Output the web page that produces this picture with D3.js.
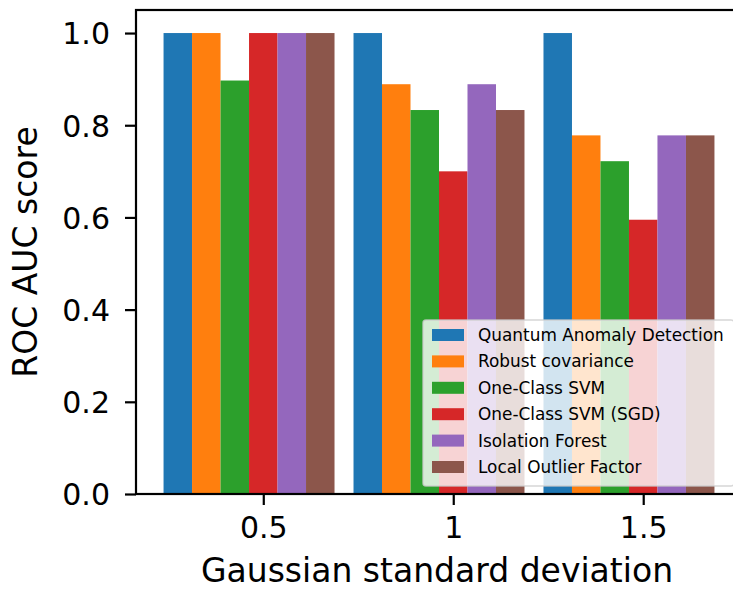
<!DOCTYPE html>
<html>
<head>
<meta charset="utf-8">
<script src="https://cdn.jsdelivr.net/npm/d3@7"></script>
<style>
  body { margin: 0; background: #fff; }
  text { font-family: "DejaVu Sans", sans-serif; fill: #000; }
</style>
</head>
<body>
<svg id="chart" width="733" height="590"></svg>
<script>
// data
var categories = ["0.5", "1", "1.5"];
var methods = ["Quantum Anomaly Detection", "Robust covariance", "One-Class SVM",
               "One-Class SVM (SGD)", "Isolation Forest", "Local Outlier Factor"];
var quantum   = [1.0, 1.0, 1.0];
var robustCov = [1.0, 0.889, 0.778];
var ocsvm     = [0.897, 0.833, 0.722];
var ocsvmSgd  = [1.0, 0.7, 0.595];
var isoForest = [1.0, 0.889, 0.778];
var lof       = [1.0, 0.833, 0.778];
var yTicks = [0, 0.2, 0.4, 0.6, 0.8, 1.0];
var colors = ["#1f77b4", "#ff7f0e", "#2ca02c", "#d62728", "#9467bd", "#8c564b"];

var series = [quantum, robustCov, ocsvm, ocsvmSgd, isoForest, lof];
var barW = 0.15;

var svg = d3.select("#chart");
// axes box (right spine falls just outside the window, as in the reference)
var axLeft = 136, axRight = 742, axTop = 10, axBottom = 494;

var x = d3.scaleLinear().domain([-0.67, 2.52]).range([axLeft, axRight]);
var y = d3.scaleLinear().domain([0, 1.05]).range([axBottom, axTop]);

// bars
series.forEach(function(vals, k) {
  svg.append("g").selectAll("rect")
    .data(vals)
    .enter().append("rect")
    .attr("x", function(d, i) { return x(i + (k - 3.5) * barW); })
    .attr("width", x(barW) - x(0))
    .attr("y", function(d) { return y(d); })
    .attr("height", function(d) { return y(0) - y(d); })
    .attr("fill", colors[k]);
});

// axes
var yAxis = d3.axisLeft(y).tickValues(yTicks).tickFormat(d3.format(".1f"))
  .tickSize(11).tickPadding(15);
var xAxis = d3.axisBottom(x).tickValues([0, 1, 2]).tickFormat(function(d) { return categories[d]; })
  .tickSize(11).tickPadding(12);

var gy = svg.append("g").attr("transform", "translate(" + axLeft + ",0)").call(yAxis);
var gx = svg.append("g").attr("transform", "translate(0," + axBottom + ")").call(xAxis);
[gx, gy].forEach(function(g) {
  g.select(".domain").remove();
  g.selectAll(".tick line").attr("stroke", "#000").attr("stroke-width", 2.2);
  g.selectAll(".tick text").attr("font-size", 30).attr("font-family", "DejaVu Sans").attr("fill", "#000");
});
gy.selectAll(".tick text").attr("dy", "0.36em");

// spines
svg.append("rect")
  .attr("x", axLeft).attr("y", axTop)
  .attr("width", axRight - axLeft).attr("height", axBottom - axTop)
  .attr("fill", "none").attr("stroke", "#000").attr("stroke-width", 2.2);

// axis labels
svg.append("text")
  .attr("x", 437).attr("y", 582)
  .attr("text-anchor", "middle").attr("font-size", 33)
  .text("Gaussian standard deviation");
svg.append("text")
  .attr("transform", "translate(37," + (axTop + axBottom) / 2 + ") rotate(-90)")
  .attr("text-anchor", "middle").attr("font-size", 33)
  .text("ROC AUC score");

// legend, lower right
var lg = svg.append("g");
lg.append("rect")
  .attr("x", 423).attr("y", 320).attr("width", 311).attr("height", 166)
  .attr("rx", 3).attr("fill", "#fff").attr("fill-opacity", 0.8)
  .attr("stroke", "#ccc").attr("stroke-opacity", 0.8).attr("stroke-width", 1.5);
var rows = lg.selectAll("g.row").data(methods).enter().append("g")
  .attr("transform", function(d, i) { return "translate(432," + (335 + i * 26.4) + ")"; });
rows.append("rect")
  .attr("x", 0).attr("y", -6).attr("width", 32).attr("height", 12)
  .attr("fill", function(d, i) { return colors[i]; });
rows.append("text")
  .attr("x", 46).attr("y", 6)
  .attr("font-size", 16.9)
  .attr("fill", "#222")
  .text(function(d) { return d; });
</script>
</body>
</html>
